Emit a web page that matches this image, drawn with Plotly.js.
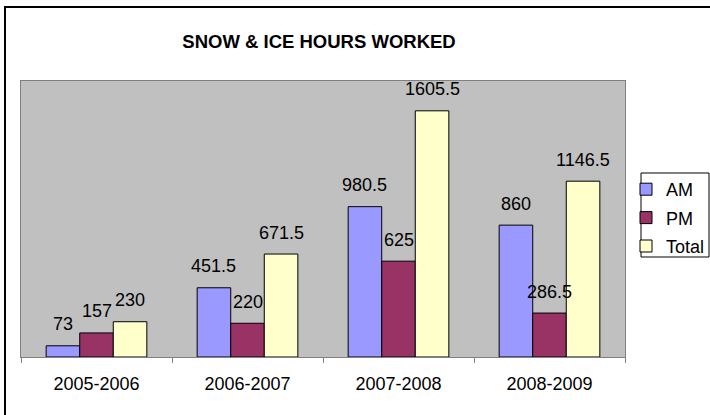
<!DOCTYPE html>
<html>
<head>
<meta charset="utf-8">
<script src="https://cdn.plot.ly/plotly-3.0.1.min.js"></script>
<style>html,body{margin:0;padding:0;background:#fff;}#chart{width:710px;height:415px;}</style>
</head>
<body>
<div id="chart"></div>
<script>
const categories = ["2005-2006", "2006-2007", "2007-2008", "2008-2009"];
const amHours = [73, 451.5, 980.5, 860];
const pmHours = [157, 220, 625, 286.5];
const totalHours = [230, 671.5, 1605.5, 1146.5];
const seriesNames = ["AM", "PM", "Total"];
const seriesColors = ["#9999FF", "#993366", "#FFFFCC"];

const FONT = '"Liberation Sans", Arial, sans-serif';
const W = 710, H = 415;
const M = {l: 21, r: 85, t: 81, b: 58, autoexpand: false};
const plotW = W - M.l - M.r, plotH = H - M.t - M.b;
const bargap = 1/3;
const barPx = plotW / categories.length * (1 - bargap) / 3;

const seriesData = [amHours, pmHours, totalHours];
const traces = seriesData.map((vals, i) => ({
  type: 'bar',
  name: seriesNames[i],
  x: categories,
  y: vals,
  legendgroup: 'g' + i,
  marker: {color: seriesColors[i], line: {color: '#000000', width: 1}},
  hoverinfo: 'none'
}));

const annotations = [];
seriesData.forEach((vals, i) => {
  vals.forEach((v, j) => {
    annotations.push({
      x: categories[j], y: v, xref: 'x', yref: 'y',
      text: String(v), showarrow: false,
      xshift: (i - 1) * barPx, yshift: 21.5,
      yanchor: 'middle', xanchor: 'center',
      font: {family: FONT, size: 18, color: '#000000'}
    });
  });
});

const px2x = p => (p - M.l) / plotW;
const px2y = p => (H - M.b - p) / plotH;

const shapes = [
  {type: 'rect', xref: 'paper', yref: 'paper', x0: px2x(5), x1: px2x(716), y0: px2y(420), y1: px2y(7),
   line: {color: '#000000', width: 2}, fillcolor: 'rgba(0,0,0,0)', layer: 'above'},
  {type: 'rect', xref: 'paper', yref: 'paper', x0: px2x(641), x1: px2x(709), y0: px2y(257), y1: px2y(173),
   line: {color: '#000000', width: 1}, fillcolor: 'rgba(0,0,0,0)', layer: 'above'}
];

const layout = {
  width: W, height: H,
  margin: M,
  paper_bgcolor: '#FFFFFF',
  plot_bgcolor: '#C0C0C0',
  font: {family: FONT, size: 18, color: '#000000'},
  title: {text: 'SNOW &amp; ICE HOURS WORKED', font: {family: FONT, size: 18.5, color: '#000000', weight: 'bold'},
          x: 319 / W, xanchor: 'center', y: 1 - 42 / H, yanchor: 'middle'},
  barmode: 'group',
  bargap: bargap,
  bargroupgap: 0,
  showlegend: true,
  legend: {x: px2x(626), xanchor: 'left', y: px2y(171), yanchor: 'top',
           bgcolor: 'rgba(0,0,0,0)', borderwidth: 0, tracegroupgap: 2,
           traceorder: 'grouped', font: {family: FONT, size: 18, color: '#000000'}},
  xaxis: {type: 'category', showgrid: false, showline: true, mirror: true, linecolor: '#808080', linewidth: 1,
          ticks: 'outside', tickson: 'boundaries', ticklen: 5, tickcolor: '#808080', ticklabelstandoff: 10,
          tickfont: {family: FONT, size: 18, color: '#000000'}, fixedrange: true},
  yaxis: {range: [0, 1800], showgrid: false, zeroline: false, showline: true, mirror: true, linecolor: '#808080',
          linewidth: 1, showticklabels: false, ticks: '', fixedrange: true},
  annotations: annotations,
  shapes: shapes
};

Plotly.newPlot('chart', traces, layout, {displayModeBar: false, staticPlot: true});
</script>
</body>
</html>
